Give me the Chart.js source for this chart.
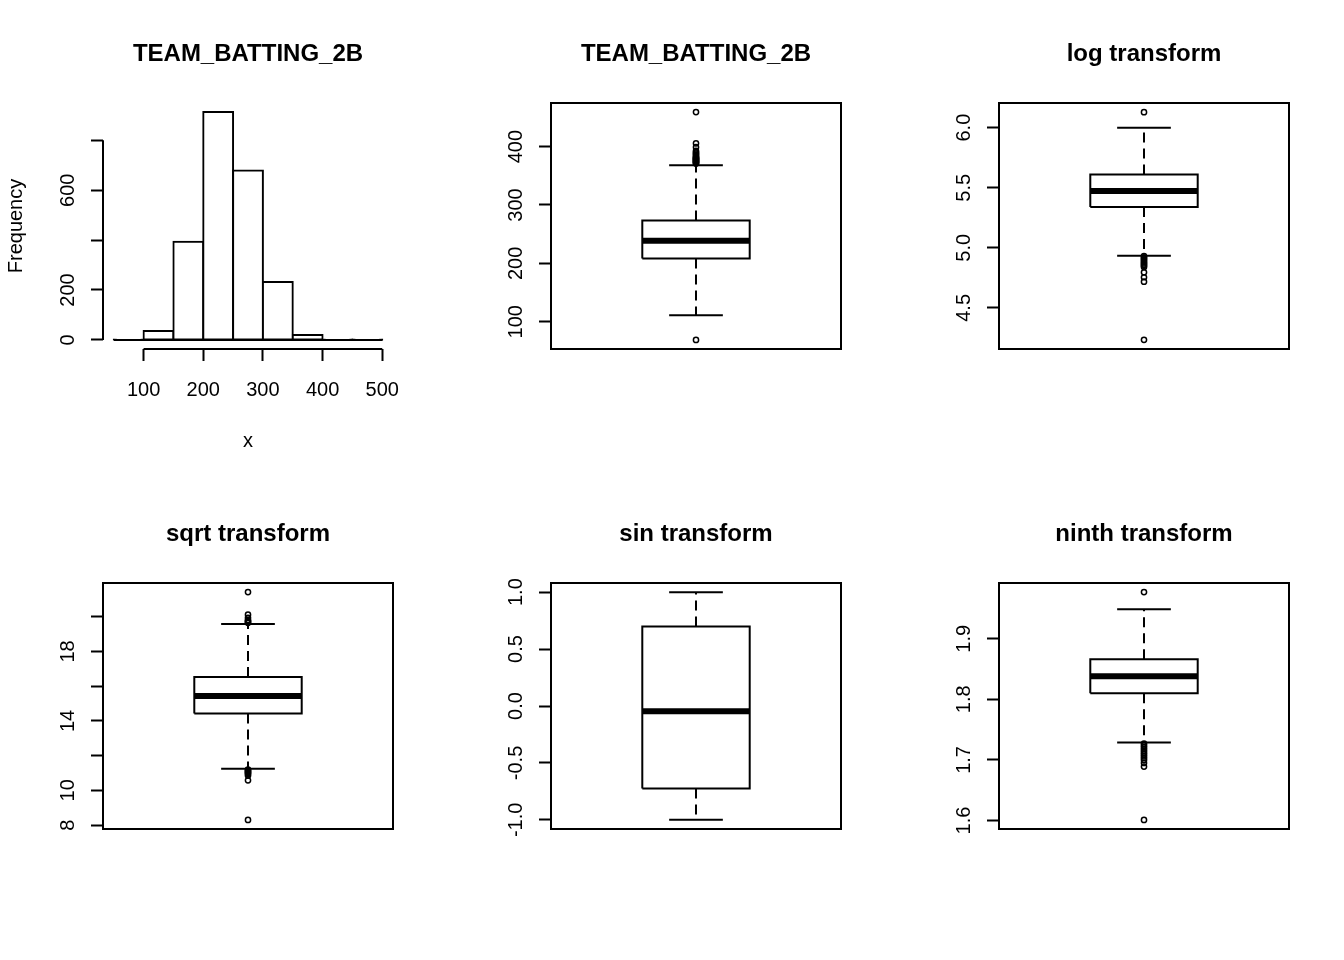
<!DOCTYPE html>
<html>
<head>
<meta charset="utf-8">
<title>TEAM_BATTING_2B transforms</title>
<script src="https://cdn.jsdelivr.net/npm/chart.js@4.4.3/dist/chart.umd.min.js"></script>
<style>
  html, body { margin: 0; padding: 0; background: #fff; }
  #grid { position: relative; width: 1344px; height: 960px; }
  #grid canvas { position: absolute; }
</style>
</head>
<body>
<div id="grid"></div>
<script>
// ---- data ----
// histogram of the raw variable
const histBreaks = [50, 100, 150, 200, 250, 300, 350, 400, 450, 500];
const histCounts = [2, 36, 393, 913, 679, 232, 20, 2, 1];
const histXTicks = [100, 200, 300, 400, 500];
const histYTicks = [0, 200, 400, 600, 800];
const histYLabels = ['0', '200', '', '600', ''];

// box stats: lower whisker, Q1, median, Q3, upper whisker
const rawStats = [111, 208.4, 238.6, 273.4, 368];
const rawOutliers = [69, 371, 372, 373, 374, 375, 376, 377, 378, 379, 380, 381, 382, 384, 386, 388, 390, 392.5, 399, 405.5, 459];
const rawTicks = [100, 200, 300, 400];
const rawLabels = ['100', '200', '300', '400'];

const logStats = [4.933, 5.340, 5.472, 5.611, 6.0];
const logOutliers = [4.234, 4.718, 4.755, 4.796, 4.84, 4.85, 4.86, 4.87, 4.88, 4.89, 4.90, 4.91, 4.92, 4.93, 6.129];
const logTicks = [4.5, 5.0, 5.5, 6.0];
const logLabels = ['4.5', '5.0', '5.5', '6.0'];

const sqrtStats = [11.25, 14.43, 15.43, 16.53, 19.58];
const sqrtOutliers = [8.3, 10.58, 10.85, 10.95, 11.0, 11.05, 11.1, 11.15, 11.2, 19.65, 19.7, 19.75, 19.81, 19.94, 20.12, 21.42];
const sqrtTicks = [8, 10, 12, 14, 16, 18, 20];
const sqrtLabels = ['8', '10', '', '14', '', '18', ''];

const sinStats = [-0.999, -0.724, -0.045, 0.698, 0.999];
const sinOutliers = [];
const sinTicks = [-1.0, -0.5, 0.0, 0.5, 1.0];
const sinLabels = ['-1.0', '-0.5', '0.0', '0.5', '1.0'];

const ninthStats = [1.7287, 1.810, 1.838, 1.866, 1.9487];
const ninthOutliers = [1.601, 1.689, 1.695, 1.700, 1.703, 1.706, 1.709, 1.712, 1.715, 1.718, 1.721, 1.724, 1.727, 1.977];
const ninthTicks = [1.6, 1.7, 1.8, 1.9];
const ninthLabels = ['1.6', '1.7', '1.8', '1.9'];

// ---- look ----
const FONT = '"Liberation Sans", Arial, sans-serif';
const CELL_W = 448, CELL_H = 480;
const LW = 2;            // normal line width
const MED_LW = 6;        // median line
const TICK_LEN = 12;
const LABEL_OFFSET = 34.5; // axis to centre of rotated y labels
const Y_WIDTH = 103;     // left margin up to the plot box
const PAD = { top: 39.6, left: 0, right: 55 };
const TITLE_GAP = 34.6;

const measure = document.createElement('canvas').getContext('2d');
measure.font = '20px ' + FONT;
function labelPad(labels) {
  const widest = Math.max(...labels.map(t => measure.measureText(t).width));
  return LABEL_OFFSET - TICK_LEN - widest / 2;
}

// R-like axis line / plot frame
const rAxes = {
  id: 'rAxes',
  afterDraw(chart, args, opts) {
    const { ctx, chartArea: a } = chart;
    ctx.save();
    ctx.strokeStyle = '#000';
    ctx.lineWidth = LW;
    if (opts.frame) {
      ctx.strokeRect(a.left, a.top, a.right - a.left, a.bottom - a.top);
    } else {
      const xs = chart.scales.x, ys = chart.scales.y;
      const xt = xs.ticks, yt = ys.ticks;
      ctx.beginPath();
      ctx.moveTo(a.left, ys.getPixelForValue(yt[0].value));
      ctx.lineTo(a.left, ys.getPixelForValue(yt[yt.length - 1].value));
      ctx.moveTo(xs.getPixelForValue(xt[0].value), a.bottom);
      ctx.lineTo(xs.getPixelForValue(xt[xt.length - 1].value), a.bottom);
      ctx.stroke();
    }
    ctx.restore();
  }
};

function yScale(min, max, ticks, labels, title) {
  return {
    type: 'linear', min, max, bounds: 'data',
    afterBuildTicks: s => { s.ticks = ticks.map(v => ({ value: v })); },
    afterFit: s => { s.width = Y_WIDTH; },
    border: { display: false },
    grid: { drawOnChartArea: false, drawTicks: true, tickLength: TICK_LEN, tickWidth: LW, tickColor: '#000' },
    ticks: {
      autoSkip: false, minRotation: 90, maxRotation: 90, crossAlign: 'center',
      padding: labelPad(labels), color: '#000', font: { family: FONT, size: 20 },
      callback: (v, i) => labels[i]
    },
    title: title ? { display: true, text: title, color: '#000', font: { family: FONT, size: 20 }, padding: { top: 4.5, bottom: 0 } } : { display: false }
  };
}

function titleOpts(text) {
  return {
    display: true, text, fullSize: false, color: '#000',
    font: { family: FONT, size: 24, weight: 'bold', lineHeight: 1.2 },
    padding: { top: 0, bottom: TITLE_GAP }
  };
}

function makeCanvas(i) {
  const c = document.createElement('canvas');
  c.width = CELL_W; c.height = CELL_H;
  c.style.left = (i % 3) * CELL_W + 'px';
  c.style.top = Math.floor(i / 3) * CELL_H + 'px';
  c.style.width = CELL_W + 'px'; c.style.height = CELL_H + 'px';
  document.getElementById('grid').appendChild(c);
  return c;
}

// ---- histogram ----
new Chart(makeCanvas(0), {
  type: 'bar',
  data: {
    datasets: [{
      data: histCounts.map((c, i) => ({ x: (histBreaks[i] + histBreaks[i + 1]) / 2, y: c })),
      backgroundColor: '#fff', borderColor: '#000', borderWidth: LW,
      borderSkipped: false, inflateAmount: 1,
      barPercentage: 1, categoryPercentage: 1
    }, {
      // bottom edges of the bins (R draws near-empty bins as a flat line)
      type: 'line', order: -1,
      data: [{ x: histBreaks[0], y: 0 }, { x: histBreaks[histBreaks.length - 1], y: 0 }],
      borderColor: '#000', borderWidth: LW, pointRadius: 0, fill: false
    }]
  },
  options: {
    responsive: false, animation: false, events: [],
    layout: { padding: { ...PAD, bottom: 21 } },
    plugins: { legend: { display: false }, tooltip: { enabled: false }, title: titleOpts('TEAM_BATTING_2B'), rAxes: { frame: false } },
    scales: {
      x: {
        type: 'linear', min: 32, max: 518, bounds: 'data', offset: false,
        afterBuildTicks: s => { s.ticks = histXTicks.map(v => ({ value: v })); },
        afterFit: s => { s.height = 110; },
        border: { display: false },
        grid: { offset: false, drawOnChartArea: false, drawTicks: true, tickLength: TICK_LEN, tickWidth: LW, tickColor: '#000' },
        ticks: { autoSkip: false, minRotation: 0, maxRotation: 0, padding: 17, color: '#000', font: { family: FONT, size: 20 }, callback: v => String(v) },
        title: { display: true, text: 'x', color: '#000', font: { family: FONT, size: 20 }, padding: { top: 0, bottom: 5.3 } }
      },
      y: yScale(-36.5, 949.5, histYTicks, histYLabels, 'Frequency')
    }
  },
  plugins: [rAxes]
});

// ---- box plots ----
function boxDatasets(stats, outliers) {
  const [lo, q1, med, q3, hi] = stats;
  const seg = (pts, extra) => Object.assign({
    data: pts, showLine: true, borderColor: '#000', borderWidth: LW,
    pointRadius: 0, tension: 0, fill: false, borderJoinStyle: 'miter'
  }, extra || {});
  return [
    seg([{ x: 1, y: q3 }, { x: 1, y: hi }], { borderDash: [10, 6] }),
    seg([{ x: 1, y: q1 }, { x: 1, y: lo }], { borderDash: [10, 6] }),
    seg([{ x: 0.9, y: hi }, { x: 1.1, y: hi }]),
    seg([{ x: 0.9, y: lo }, { x: 1.1, y: lo }]),
    seg([{ x: 0.8, y: q1 }, { x: 0.8, y: q3 }, { x: 1.2, y: q3 }, { x: 1.2, y: q1 }, { x: 0.8, y: q1 }]),
    seg([{ x: 0.8, y: med }, { x: 1.2, y: med }], { borderWidth: MED_LW, borderCapStyle: 'butt' }),
    {
      data: outliers.map(v => ({ x: 1, y: v })), showLine: false,
      pointStyle: 'circle', pointRadius: 2.6, pointBorderWidth: 1.5,
      pointBorderColor: '#000', pointBackgroundColor: 'rgba(0,0,0,0)'
    }
  ];
}

const boxPanels = [
  { cell: 1, title: 'TEAM_BATTING_2B', stats: rawStats, outliers: rawOutliers, ticks: rawTicks, labels: rawLabels, min: 53.4, max: 474.6 },
  { cell: 2, title: 'log transform', stats: logStats, outliers: logOutliers, ticks: logTicks, labels: logLabels, min: 4.158, max: 6.205 },
  { cell: 3, title: 'sqrt transform', stats: sqrtStats, outliers: sqrtOutliers, ticks: sqrtTicks, labels: sqrtLabels, min: 7.775, max: 21.945 },
  { cell: 4, title: 'sin transform', stats: sinStats, outliers: sinOutliers, ticks: sinTicks, labels: sinLabels, min: -1.08, max: 1.08 },
  { cell: 5, title: 'ninth transform', stats: ninthStats, outliers: ninthOutliers, ticks: ninthTicks, labels: ninthLabels, min: 1.586, max: 1.992 }
];

boxPanels.forEach(p => {
  new Chart(makeCanvas(p.cell), {
    type: 'scatter',
    data: { datasets: boxDatasets(p.stats, p.outliers) },
    options: {
      responsive: false, animation: false, events: [],
      layout: { padding: { ...PAD, bottom: 131 } },
      plugins: { legend: { display: false }, tooltip: { enabled: false }, title: titleOpts(p.title), rAxes: { frame: true } },
      scales: {
        x: { type: 'linear', min: 0.46, max: 1.54, display: false },
        y: yScale(p.min, p.max, p.ticks, p.labels)
      }
    },
    plugins: [rAxes]
  });
});
</script>
</body>
</html>
